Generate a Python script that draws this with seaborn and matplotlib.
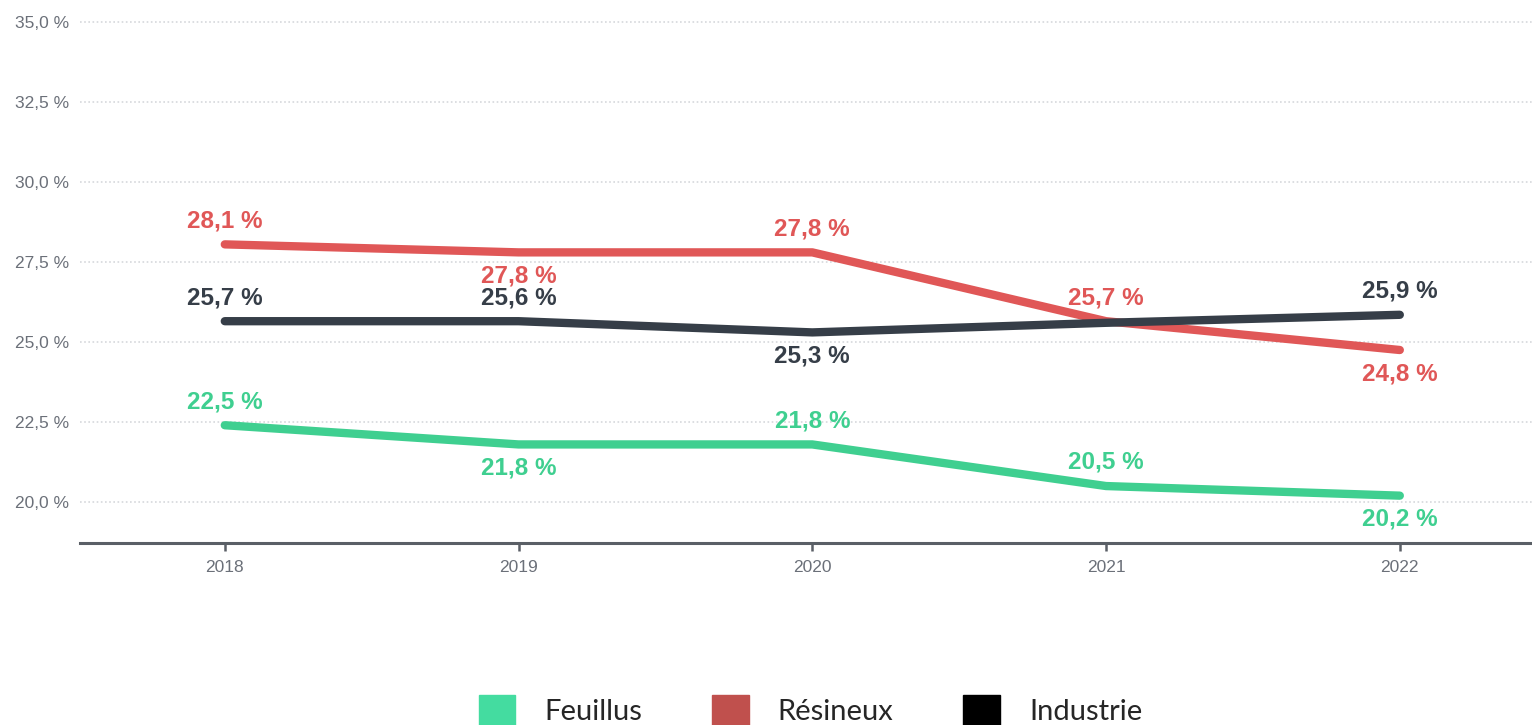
import seaborn as sns
import pandas as pd
import matplotlib.pyplot as plt
from matplotlib.patches import Patch

# data
years = [2018, 2019, 2020, 2021, 2022]
feuillus = [22.4, 21.8, 21.8, 20.5, 20.2]
resineux = [28.05, 27.8, 27.8, 25.65, 24.75]
industrie = [25.65, 25.65, 25.3, 25.6, 25.85]
label_feuillus = ['22,5 %', '21,8 %', '21,8 %', '20,5 %', '20,2 %']
label_resineux = ['28,1 %', '27,8 %', '27,8 %', '25,7 %', '24,8 %']
label_industrie = ['25,7 %', '25,6 %', '25,3 %', None, '25,9 %']
# +1 = label above the point, -1 = below
pos_feuillus = [1, -1, 1, 1, -1]
pos_resineux = [1, -1, 1, 1, -1]
pos_industrie = [1, 1, -1, 0, 1]
yticks = [20.0, 22.5, 25.0, 27.5, 30.0, 32.5, 35.0]

series = ['Feuillus', 'Résineux', 'Industrie']
line_colors = {'Feuillus': '#3fcf90', 'Résineux': '#e05757', 'Industrie': '#363e48'}
legend_colors = ['#44dca0', '#c0504d', '#000000']

rows = []
for name, vals in zip(series, [feuillus, resineux, industrie]):
    for y, v in zip(years, vals):
        rows.append({'Année': y, 'Part': v, 'Série': name})
df = pd.DataFrame(rows)

sns.set_style('white')
fig = plt.figure(figsize=(15.32, 7.25), dpi=100)
ax = fig.add_axes([0.0522, 0.251, 0.9478, 0.721])

sns.lineplot(data=df, x='Année', y='Part', hue='Série', palette=line_colors,
             linewidth=6, legend=False, ax=ax, solid_capstyle='round')

# data labels
for name, vals, labels, pos in zip(series, [feuillus, resineux, industrie],
                                   [label_feuillus, label_resineux, label_industrie],
                                   [pos_feuillus, pos_resineux, pos_industrie]):
    for y, v, lab, p in zip(years, vals, labels, pos):
        if lab is None:
            continue
        ax.annotate(lab, (y, v), xytext=(0, 17 * p), textcoords='offset points',
                    ha='center', va='center', fontsize=17.5, fontweight='bold',
                    color=line_colors[name], family='Liberation Sans')

ax.set_xlim(2017.507, 2022.45)
ax.set_ylim(18.72, 35.05)
ax.set_yticks(yticks)
ax.set_yticklabels([f'{t:.1f} %'.replace('.', ',') for t in yticks])
ax.set_xticks(years)
ax.set_xticklabels([str(y) for y in years])
ax.yaxis.grid(True, linestyle=(0, (1, 1.5)), color='#d6d8dc', linewidth=1.2)
ax.set_xlabel('')
ax.set_ylabel('')
for s in ['top', 'right', 'left']:
    ax.spines[s].set_visible(False)
ax.spines['bottom'].set_color('#5a5f66')
ax.spines['bottom'].set_linewidth(2.2)
ax.tick_params(axis='y', left=False, length=0, labelsize=12.5, labelcolor='#6b7079', pad=8)
ax.tick_params(axis='x', bottom=True, length=6, width=1.8, color='#5a5f66',
               labelsize=12.5, labelcolor='#6b7079', pad=6)
for lab in ax.get_xticklabels() + ax.get_yticklabels():
    lab.set_family('Liberation Sans')

handles = [Patch(facecolor=c, edgecolor=c) for c in legend_colors]
leg = fig.legend(handles, series, loc='center', bbox_to_anchor=(0.529, 0.02),
                 ncol=3, frameon=False, handlelength=1.25, handleheight=1.3,
                 handletextpad=1.0, columnspacing=2.4,
                 prop={'family': 'Lato', 'size': 21})

fig.savefig('out.png', dpi=100)
